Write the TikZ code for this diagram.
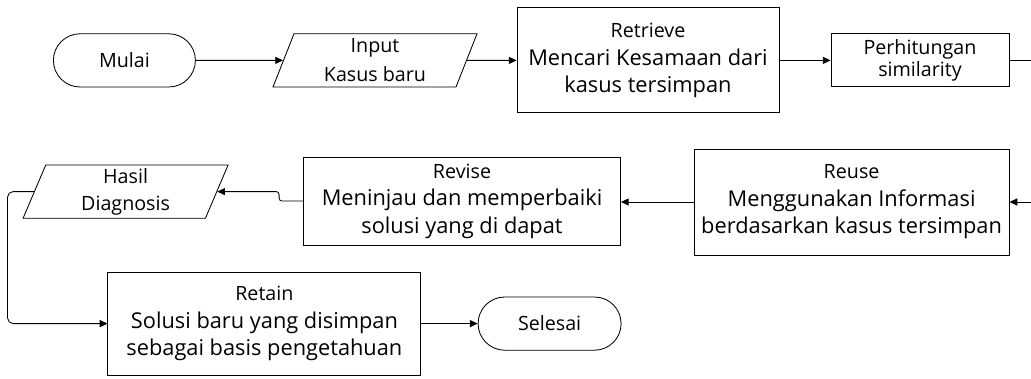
\documentclass[tikz,border=0pt]{standalone}
\usepackage{fontspec}
\setmainfont{Open Sans}
\usetikzlibrary{shapes.geometric,shapes.misc,arrows.meta}
\newcommand{\judul}[1]{{\fontsize{14}{18}\selectfont #1}}
\begin{document}
\begin{tikzpicture}[
    >={Triangle[length=5.5pt,width=5pt]},
    every node/.style={draw, line width=0.6pt, inner sep=0pt, align=center,
        font=\fontsize{15.5}{19.5}\selectfont},
    terminal/.style={rounded rectangle, minimum width=3.55cm, minimum height=1.33cm,
        font=\fontsize{14}{17}\selectfont},
    io/.style={trapezium, trapezium left angle=64, trapezium right angle=116,
        trapezium stretches body, minimum width=5.1cm, minimum height=1.33cm,
        font=\fontsize{14}{17}\selectfont},
    proses/.style={rectangle},
    garis/.style={line width=0.6pt, ->}
]
\useasboundingbox (0,0) rectangle (25.775,-9.475);

% Baris atas
\node[terminal] (mulai) at (3.11,-1.51) {Mulai};
\node[io] (input) at (9.375,-1.51) {Input\\[3.5pt]Kasus baru};
\node[proses, minimum width=6.55cm, minimum height=2.625cm] (retrieve) at (16.2,-1.51)
    {\judul{Retrieve}\\Mencari Kesamaan dari\\kasus tersimpan};
\node[proses, minimum width=4.45cm, minimum height=1.325cm,
    font=\fontsize{14}{15}\selectfont] (hitung) at (23.0,-1.51) {Perhitungan\\similarity};

% Baris tengah
\node[proses, minimum width=7.875cm, minimum height=2.65cm] (reuse) at (21.29,-5.05)
    {\judul{Reuse}\\Menggunakan Informasi\\berdasarkan kasus tersimpan};
\node[proses, minimum width=7.925cm, minimum height=2.2cm] (revise) at (11.55,-5.025)
    {\judul{Revise}\\Meninjau dan memperbaiki\\solusi yang di dapat};
\node[io, minimum width=5.125cm] (hasil) at (3.14,-4.79) {Hasil\\[2pt]Diagnosis};

% Baris bawah
\node[proses, minimum width=7.825cm, minimum height=2.575cm] (retain) at (6.61,-8.09)
    {\judul{Retain}\\Solusi baru yang disimpan\\sebagai basis pengetahuan};
\node[terminal, minimum width=3.575cm] (selesai) at (13.74,-8.09) {Selesai};

% Alur
\draw[garis] (mulai) -- (input);
\draw[garis] (input) -- (retrieve);
\draw[garis] (retrieve) -- (hitung);
\draw[garis] (hitung.east) -- ++(1.2,0) |- (reuse.east);
\draw[garis] (reuse.west) -- (reuse.west -| revise.east);
\draw[garis, rounded corners=2pt] (revise.west) -- ++(-0.6,0) |- (hasil.east);
\draw[garis, rounded corners=4pt] (hasil.west) -- ++(-0.66,0) |- (retain.west);
\draw[garis] (retain) -- (selesai);

\end{tikzpicture}
\end{document}
